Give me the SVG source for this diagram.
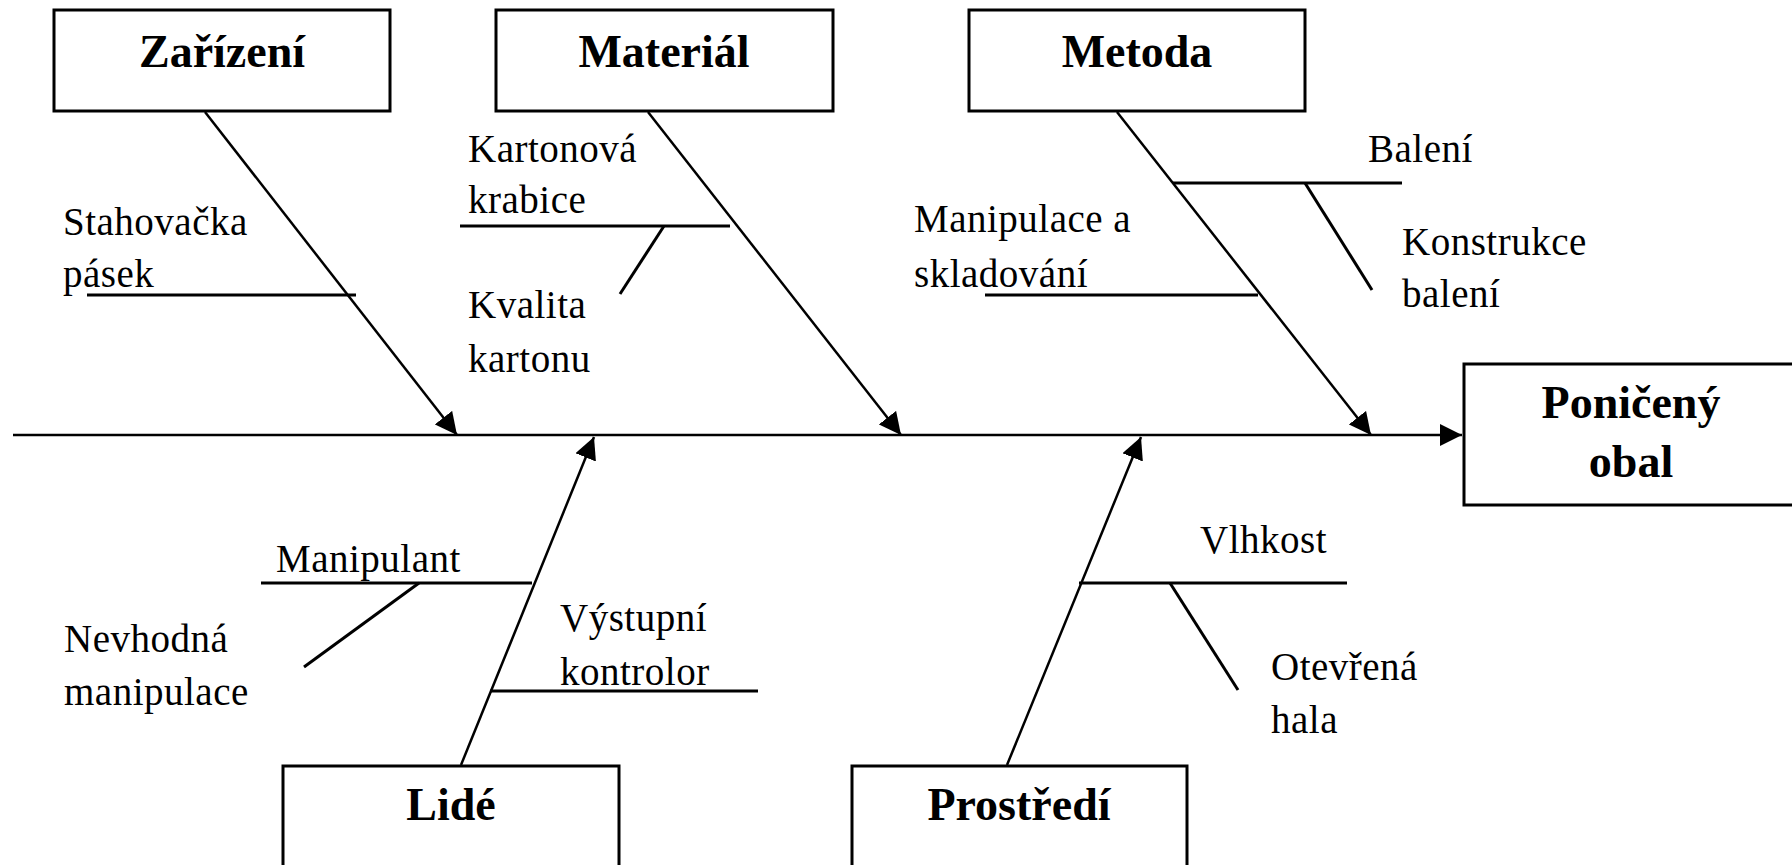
<svg xmlns="http://www.w3.org/2000/svg" width="1792" height="865" viewBox="0 0 1792 865">
<style>
.box{fill:#fff;stroke:#000;stroke-width:3}
.hd{font-family:"Liberation Serif","Times New Roman",serif;font-weight:bold;font-size:46px;fill:#000;text-anchor:middle}
.lb{font-family:"Liberation Serif","Times New Roman",serif;font-size:39px;letter-spacing:0.5px;fill:#000}
.ln{stroke:#000;stroke-width:3;fill:none}
.ar{stroke:#000;stroke-width:2.5;fill:none;marker-end:url(#ah)}
</style>
<defs>
<marker id="ah" viewBox="0 0 22 22" refX="22" refY="11" markerWidth="22" markerHeight="22" markerUnits="userSpaceOnUse" orient="auto">
<path d="M0,0 L22,11 L0,22 z" fill="#000"/>
</marker>
</defs>
<rect width="1792" height="865" fill="#fff"/>
<g id="connectors">
<line class="ar" x1="13" y1="435" x2="1462" y2="435"/>
<line class="ar" x1="205" y1="112" x2="457" y2="435"/>
<line class="ar" x1="648" y1="112" x2="901" y2="435"/>
<line class="ar" x1="1117" y1="112" x2="1371" y2="435"/>
<line class="ar" x1="461" y1="765" x2="594" y2="437"/>
<line class="ar" x1="1007" y1="765" x2="1141" y2="437"/>
<line class="ln" x1="87" y1="295" x2="356" y2="295"/>
<line class="ln" x1="460" y1="226" x2="730" y2="226"/>
<line class="ln" x1="664" y1="226" x2="620" y2="294"/>
<line class="ln" x1="1173" y1="183" x2="1402" y2="183"/>
<line class="ln" x1="1305" y1="183" x2="1372" y2="290"/>
<line class="ln" x1="985" y1="295" x2="1258" y2="295"/>
<line class="ln" x1="261" y1="583" x2="532" y2="583"/>
<line class="ln" x1="419" y1="583" x2="304" y2="667"/>
<line class="ln" x1="490" y1="691" x2="758" y2="691"/>
<line class="ln" x1="1079" y1="583" x2="1347" y2="583"/>
<line class="ln" x1="1170" y1="583" x2="1238" y2="690"/>
</g>
<g id="zarizeni"><rect class="box" x="54" y="10" width="336" height="101"/><text class="hd" x="222" y="67">Zařízení</text></g>
<g id="material"><rect class="box" x="496" y="10" width="337" height="101"/><text class="hd" x="664" y="67">Materiál</text></g>
<g id="metoda"><rect class="box" x="969" y="10" width="336" height="101"/><text class="hd" x="1137" y="67">Metoda</text></g>
<g id="lide"><rect class="box" x="283" y="766" width="336" height="120"/><text class="hd" x="451" y="820">Lidé</text></g>
<g id="prostredi"><rect class="box" x="852" y="766" width="335" height="120"/><text class="hd" x="1019" y="820">Prostředí</text></g>
<g id="result"><rect class="box" x="1464" y="364" width="340" height="141"/><text class="hd" x="1631" y="418" font-size="47">Poničený</text><text class="hd" x="1631" y="477" font-size="47">obal</text></g>
<g id="labels">
<text class="lb" x="63" y="235">Stahovačka</text>
<text class="lb" x="63" y="287">pásek</text>
<text class="lb" x="468" y="162">Kartonová</text>
<text class="lb" x="468" y="213">krabice</text>
<text class="lb" x="468" y="318">Kvalita</text>
<text class="lb" x="468" y="372">kartonu</text>
<text class="lb" x="914" y="232">Manipulace a</text>
<text class="lb" x="914" y="287">skladování</text>
<text class="lb" x="1368" y="162">Balení</text>
<text class="lb" x="1402" y="255">Konstrukce</text>
<text class="lb" x="1402" y="307">balení</text>
<text class="lb" x="276" y="572">Manipulant</text>
<text class="lb" x="64" y="652">Nevhodná</text>
<text class="lb" x="64" y="705">manipulace</text>
<text class="lb" x="560" y="631">Výstupní</text>
<text class="lb" x="560" y="685">kontrolor</text>
<text class="lb" x="1200" y="553">Vlhkost</text>
<text class="lb" x="1271" y="680">Otevřená</text>
<text class="lb" x="1271" y="733">hala</text>
</g>
</svg>
